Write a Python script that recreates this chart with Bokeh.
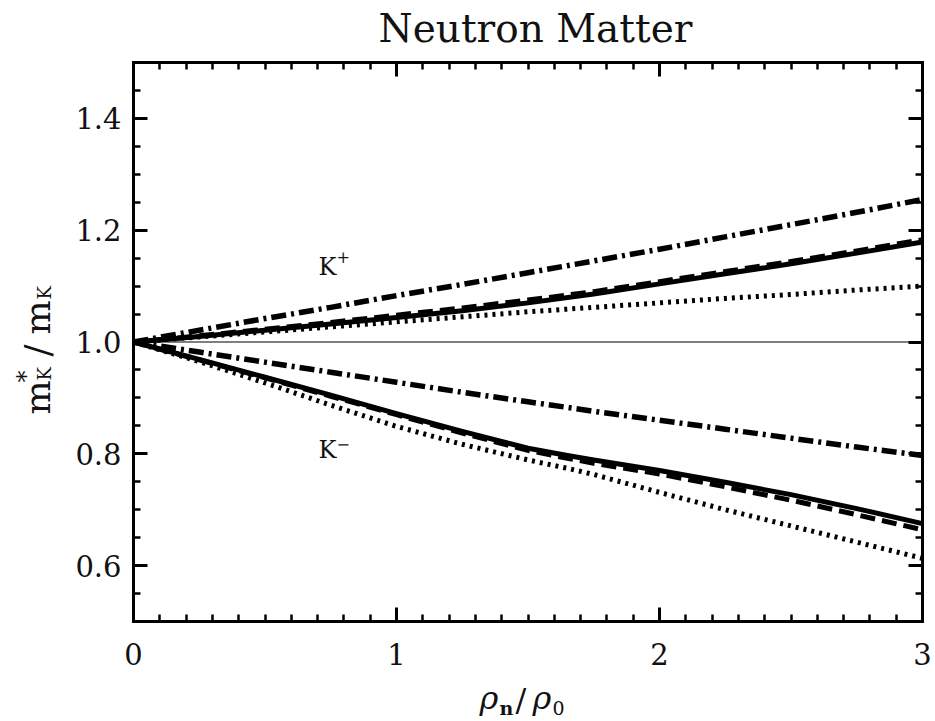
import math
from bokeh.plotting import figure
from bokeh.models import (Label, LinearAxis, SingleIntervalTicker, PrintfTickFormatter,
                          CustomJSTickFormatter, Range1d)
from bokeh.embed import file_html
from bokeh.resources import INLINE

# ---------------- data ----------------
x_vals = [0.0, 0.25, 0.5, 0.75, 1.0, 1.25, 1.5, 1.75, 2.0, 2.25, 2.5, 2.75, 3.0]

# K+ branch
kp_dashdot = [1.000, 1.021, 1.042, 1.062, 1.083, 1.103, 1.124, 1.145, 1.166, 1.188, 1.210, 1.232, 1.255]
kp_solid   = [1.000, 1.010, 1.021, 1.032, 1.044, 1.056, 1.070, 1.086, 1.104, 1.122, 1.140, 1.159, 1.179]
kp_dashed  = [1.000, 1.011, 1.023, 1.035, 1.048, 1.061, 1.075, 1.090, 1.108, 1.126, 1.144, 1.163, 1.183]
kp_dotted  = [1.000, 1.009, 1.018, 1.027, 1.036, 1.045, 1.054, 1.062, 1.070, 1.078, 1.085, 1.093, 1.100]

# K- branch
km_x       = [0.0, 0.25, 0.5, 0.75, 1.0, 1.25, 1.5, 1.65, 1.75, 2.0, 2.25, 2.5, 2.75, 3.0]
km_solid   = [1.000, 0.969, 0.937, 0.905, 0.872, 0.840, 0.810, 0.797, 0.789, 0.770, 0.749, 0.727, 0.702, 0.675]
km_dashed  = [1.000, 0.968, 0.936, 0.903, 0.870, 0.837, 0.806, 0.792, 0.783, 0.764, 0.741, 0.717, 0.691, 0.664]
km_dashdot = [1.000, 0.982, 0.964, 0.946, 0.928, 0.910, 0.893, 0.883, 0.876, 0.860, 0.844, 0.828, 0.812, 0.797]
km_dotted  = [1.000, 0.965, 0.927, 0.887, 0.849, 0.817, 0.789, 0.774, 0.763, 0.731, 0.700, 0.671, 0.642, 0.613]

ref_x = [0.0, 3.0]
ref_y = [1.0, 1.0]

x_bounds = (0.0, 3.0)
y_bounds = (0.5, 1.5)
x_tick_interval = 1
y_tick_interval = 0.2

title_text = "Neutron Matter"

# ---------------- layout ----------------
FONT = "DejaVu Serif"
W, H = 934, 720
BOX_L, BOX_R, BOX_T, BOX_B = 133, 922, 62, 621   # plot box in page pixels

sx = (BOX_R - BOX_L) / (x_bounds[1] - x_bounds[0])
sy = (BOX_B - BOX_T) / (y_bounds[1] - y_bounds[0])

def fx(px):  # page px -> data x
    return x_bounds[0] + (px - BOX_L) / sx

def fy(py):  # page px -> data y
    return y_bounds[0] + (BOX_B - py) / sy

p = figure(width=W, height=H,
           min_border_left=0, min_border_right=0, min_border_top=0, min_border_bottom=0,
           x_range=Range1d(fx(0), fx(W)), y_range=Range1d(fy(H), fy(0)),
           x_axis_location=None, y_axis_location=None,
           output_backend="svg", toolbar_location=None)
p.grid.visible = False
p.outline_line_color = None
p.background_fill_color = "white"
p.border_fill_color = "white"

blank = CustomJSTickFormatter(code="return ''")

def make_axis(kind, labels, loc):
    if kind == "x":
        t = SingleIntervalTicker(interval=x_tick_interval, num_minor_ticks=10)
        f = PrintfTickFormatter(format="%d")
        b = x_bounds
    else:
        t = SingleIntervalTicker(interval=y_tick_interval, num_minor_ticks=4)
        f = PrintfTickFormatter(format="%.1f")
        b = y_bounds
    ax = LinearAxis(ticker=t, formatter=f if labels else blank, fixed_location=loc, bounds=b)
    ax.axis_line_width = 3
    ax.axis_line_color = "black"
    ax.axis_line_cap = "square"
    ax.major_tick_line_width = 3
    ax.minor_tick_line_width = 2.5
    ax.major_tick_in = 14
    ax.major_tick_out = 0
    ax.minor_tick_in = 7
    ax.minor_tick_out = 0
    ax.major_label_text_font = FONT
    ax.major_label_text_font_size = "29px" if labels else "1px"
    ax.major_label_text_color = "#111111"
    ax.major_label_standoff = 12 if labels else 0
    return ax

bx = make_axis("x", True, y_bounds[0]); bx.major_label_standoff = 21
p.add_layout(bx, "below")
p.add_layout(make_axis("x", False, y_bounds[1]), "above")
p.add_layout(make_axis("y", True, x_bounds[0]), "left")
p.add_layout(make_axis("y", False, x_bounds[1]), "right")

# reference line
p.line(ref_x, ref_y, line_color="black", line_width=1.2)

DASH = "15 7"
DASHDOT = "15 5 3 5"
DOT = "3 5"
for xs, ys, dash, lw in [(x_vals, kp_dotted, DOT, 5), (x_vals, kp_dashed, DASH, 5), (x_vals, kp_solid, "solid", 5),
                         (x_vals, kp_dashdot, DASHDOT, 5.5),
                         (km_x, km_dotted, DOT, 5), (km_x, km_dashed, DASH, 5), (km_x, km_solid, "solid", 5),
                         (km_x, km_dashdot, DASHDOT, 5.5)]:
    p.line(xs, ys, line_color="black", line_width=lw, line_dash=dash, line_cap="butt", line_join="round")

def lab(px, py, text, size, angle=0.0, align="left", style="normal", color="#111111"):
    # (px, py): left end of text, vertical middle of its capital height
    p.add_layout(Label(x=fx(px), y=fy(py), text=text, text_font=FONT, text_font_size=f"{size}px",
                       text_align=align, text_baseline="middle", angle=angle,
                       text_font_style=style, text_color=color))

# title
lab(535, 28, title_text, 39, align="center")

# K+ / K- labels
lab(318, 266, "K", 24)
lab(336, 256, "+", 16)
lab(318, 449, "K", 24)
lab(336, 443, "\u2212", 16)

# y-axis label (rotated), composed pieces
R = math.pi / 2
lab(37, 414, "m", 36, angle=R)
lab(44, 380, "K", 18, angle=R)
lab(25, 382, "*", 24, angle=R)
lab(37, 356, "/", 36, angle=R)
lab(37, 334, "m", 36, angle=R)
lab(44, 299, "K", 18, angle=R)

# x-axis label
lab(479, 697, "\u03c1", 32, style="italic")
lab(499, 707, "n", 19, style="bold")
lab(515, 699, "/", 32)
lab(532, 697, "\u03c1", 32, style="italic")
lab(552, 707, "0", 19)

open("out.html", "w").write(file_html(p, INLINE))
